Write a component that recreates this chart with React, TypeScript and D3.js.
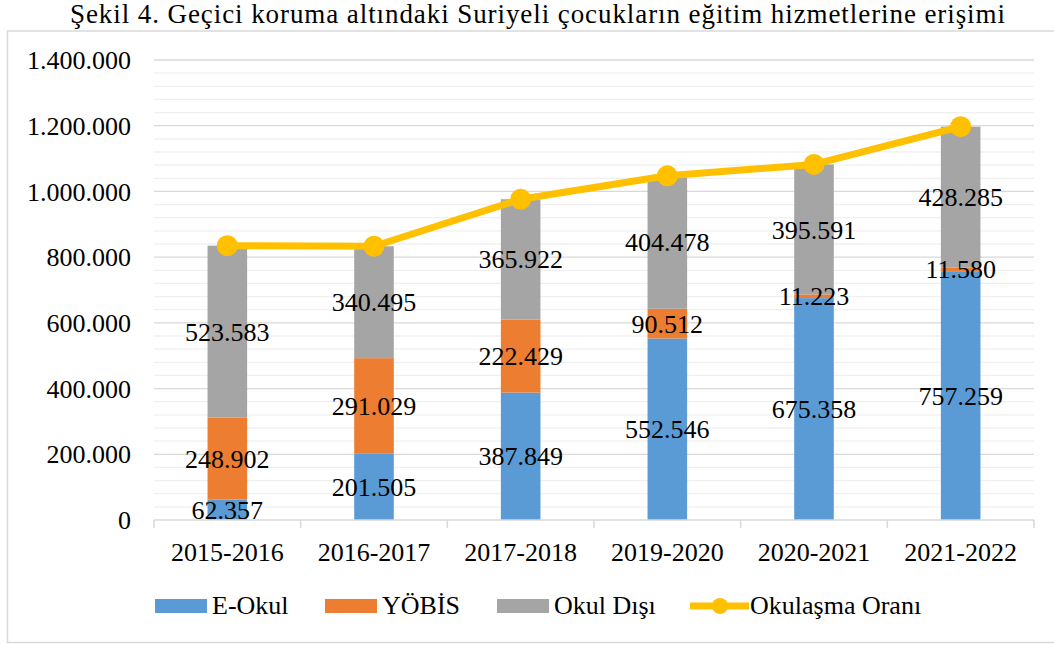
import React from 'react';
import * as d3 from 'd3';

const categories = ['2015-2016', '2016-2017', '2017-2018', '2019-2020', '2020-2021', '2021-2022'];
const eOkul = [62357, 201505, 387849, 552546, 675358, 757259];
const yobis = [248902, 291029, 222429, 90512, 11223, 11580];
const okulDisi = [523583, 340495, 365922, 404478, 395591, 428285];
const okulasma = [834842, 833029, 976200, 1047536, 1082172, 1197124];
const seriesNames = ['E-Okul', 'YÖBİS', 'Okul Dışı'];
const lineName = 'Okulaşma Oranı';
const yTicks = [0, 200000, 400000, 600000, 800000, 1000000, 1200000, 1400000];
const title = 'Şekil 4. Geçici koruma altındaki Suriyeli çocukların eğitim hizmetlerine erişimi';

const colors = ['#5B9BD5', '#ED7D31', '#A5A5A5'];
const lineColor = '#FFC000';
const font = '"Liberation Serif", "Times New Roman", serif';

const trLocale = d3.formatLocale({ decimal: ',', thousands: '.', grouping: [3], currency: ['', ''] });
const fmt = trLocale.format(',d');

const App = () => {
  const W = 1054, H = 645;
  const left = 154, right = 1034, top = 60, bottom = 520;

  const x = d3.scaleBand<string>().domain(categories).range([left, right]).paddingInner(0.73).paddingOuter(0.365);
  const y = d3.scaleLinear().domain([0, 1400000]).range([bottom, top]);

  // stack data
  const rows = categories.map((c, i) => ({ cat: c, e: eOkul[i], y: yobis[i], o: okulDisi[i] }));
  const stacked = d3.stack<any>().keys(['e', 'y', 'o'])(rows);

  const minorTicks = d3.range(0, 1400001, 40000).filter(v => v % 200000 !== 0);

  const line = d3.line<number>()
    .x((_, i) => (x(categories[i]) as number) + x.bandwidth() / 2)
    .y(d => y(d));

  const step = x.step();
  const catTicks = d3.range(categories.length + 1).map(i => left + i * step);

  return (
    <div style={{ position: 'absolute', left: 0, top: 0 }}>
      <svg width={W} height={H} style={{ display: 'block', background: '#fff' }}>
        {/* border */}
        <path d={`M${W + 2},31 H7.5 V642.5 H${W + 2}`} fill="none" stroke="#d9d9d9" strokeWidth={1.5} />
        <text x={70} y={23} textLength={935} lengthAdjust="spacing" fontFamily={font} fontSize={27} fill="#000">{title}</text>

        {/* gridlines */}
        {minorTicks.map(t => (
          <line key={'m' + t} x1={left} x2={right} y1={y(t)} y2={y(t)} stroke="#f0f0f0" strokeWidth={1.3} />
        ))}
        {yTicks.filter(t => t > 0).map(t => (
          <line key={'g' + t} x1={left} x2={right} y1={y(t)} y2={y(t)} stroke="#d9d9d9" strokeWidth={1.3} />
        ))}
        {yTicks.map(t => (
          <text key={'t' + t} x={131} y={y(t)} dy="0.35em" textAnchor="end" fontFamily={font} fontSize={26}>{fmt(t)}</text>
        ))}

        {/* bars */}
        {stacked.map((s, si) => (
          <g key={si} fill={colors[si]}>
            {s.map((d, i) => (
              <rect key={i} x={x(categories[i])} width={x.bandwidth()} y={y(d[1])} height={y(d[0]) - y(d[1])} />
            ))}
          </g>
        ))}

        {/* x axis */}
        <line x1={left} x2={right} y1={bottom} y2={bottom} stroke="#d9d9d9" strokeWidth={1.5} />
        {catTicks.map((t, i) => (
          <line key={'ct' + i} x1={t} x2={t} y1={bottom} y2={bottom + 8} stroke="#d9d9d9" strokeWidth={1.5} />
        ))}
        {categories.map(c => (
          <text key={c} x={(x(c) as number) + x.bandwidth() / 2} y={561} textAnchor="middle" fontFamily={font} fontSize={26}>{c}</text>
        ))}

        {/* line */}
        <path d={line(okulasma) || ''} fill="none" stroke={lineColor} strokeWidth={7} strokeLinejoin="round" />
        {okulasma.map((v, i) => (
          <circle key={i} cx={(x(categories[i]) as number) + x.bandwidth() / 2} cy={y(v)} r={10.5} fill={lineColor} />
        ))}

        {/* data labels */}
        {stacked.map((s, si) => (
          <g key={'l' + si}>
            {s.map((d, i) => (
              <text key={i} x={(x(categories[i]) as number) + x.bandwidth() / 2} y={(y(d[0]) + y(d[1])) / 2} dy="0.35em"
                textAnchor="middle" fontFamily={font} fontSize={26} fill="#000">{fmt(d[1] - d[0])}</text>
            ))}
          </g>
        ))}

        {/* legend */}
        {seriesNames.map((n, i) => {
          const lx = [155, 325, 497][i];
          return (
            <g key={n}>
              <rect x={lx} y={599} width={52} height={14} fill={colors[i]} />
              <text x={lx + 57} y={614} fontFamily={font} fontSize={26}>{n}</text>
            </g>
          );
        })}
        <line x1={690} x2={749} y1={606} y2={606} stroke={lineColor} strokeWidth={7} />
        <circle cx={720} cy={606} r={8} fill={lineColor} />
        <text x={750} y={614} fontFamily={font} fontSize={26}>{lineName}</text>
      </svg>
    </div>
  );
};

export default App;
